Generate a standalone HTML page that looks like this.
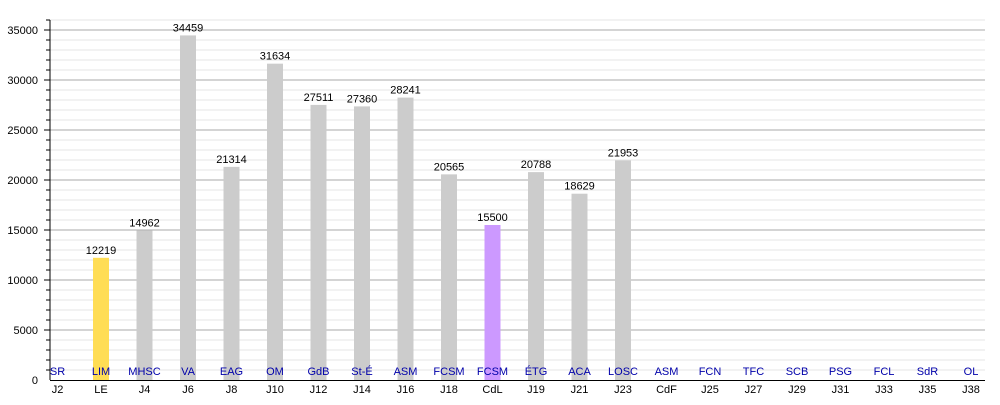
<!DOCTYPE html>
<html><head><meta charset="utf-8"><style>
body{margin:0;background:#fff}
svg text{font-family:"Liberation Sans",sans-serif;font-size:11px}
</style></head><body>
<svg width="1000" height="400" xmlns="http://www.w3.org/2000/svg">
<g id="grid"></g>
<g id="bars"></g>
<line x1="50" y1="20" x2="50" y2="380" stroke="#000"/>
<line x1="50" y1="380.5" x2="985" y2="380.5" stroke="#000"/>
<g id="ticks"></g>
</svg>
<script>
const ns="http://www.w3.org/2000/svg";
const svg=document.querySelector('svg');
function el(t,a,txt,p){const e=document.createElementNS(ns,t);for(const k in a)e.setAttribute(k,a[k]);if(txt!=null)e.textContent=txt;(p||svg).appendChild(e);return e;}
const grid=document.getElementById('grid'),bars=document.getElementById('bars'),ticks=document.getElementById('ticks');
for(let v=1000;v<=36000;v+=1000){const y=380-v*0.01;const maj=v%5000==0;
el('line',{x1:50,x2:985,y1:y,y2:y,stroke:maj?'#aaa':'#e4e4e4','stroke-width':1},null,grid);
el('line',{x1:maj?44:46,x2:50,y1:y,y2:y,stroke:'#000'},null,ticks);}
for(let v=0;v<=35000;v+=5000)el('text',{x:38,y:380-v*0.01+4,'text-anchor':'end'},String(v),ticks);
const xl=["J2","LE","J4","J6","J8","J10","J12","J14","J16","J18","CdL","J19","J21","J23","CdF","J25","J27","J29","J31","J33","J35","J38"];
const bl=["SR","LIM","MHSC","VA","EAG","OM","GdB","St-É","ASM","FCSM","FCSM","ÉTG","ACA","LOSC","ASM","FCN","TFC","SCB","PSG","FCL","SdR","OL"];
const vals={1:12219,2:14962,3:34459,4:21314,5:31634,6:27511,7:27360,8:28241,9:20565,10:15500,11:20788,12:18629,13:21953};
for(let i=0;i<22;i++){const c=57.5+43.5*i;
if(vals[i]){const v=vals[i],h=v*0.01;const col=i==1?'#ffdd55':i==10?'#cc99ff':'#cccccc';
el('rect',{x:c-8,y:380-h,width:16,height:h,fill:col},null,bars);
el('text',{x:c,y:380-h-4,'text-anchor':'middle'},String(v),bars);}
el('text',{x:c,y:375,'text-anchor':'middle',fill:'#0000aa'},bl[i],ticks);
el('text',{x:c,y:393,'text-anchor':'middle'},xl[i],ticks);}
</script>
</body></html>
